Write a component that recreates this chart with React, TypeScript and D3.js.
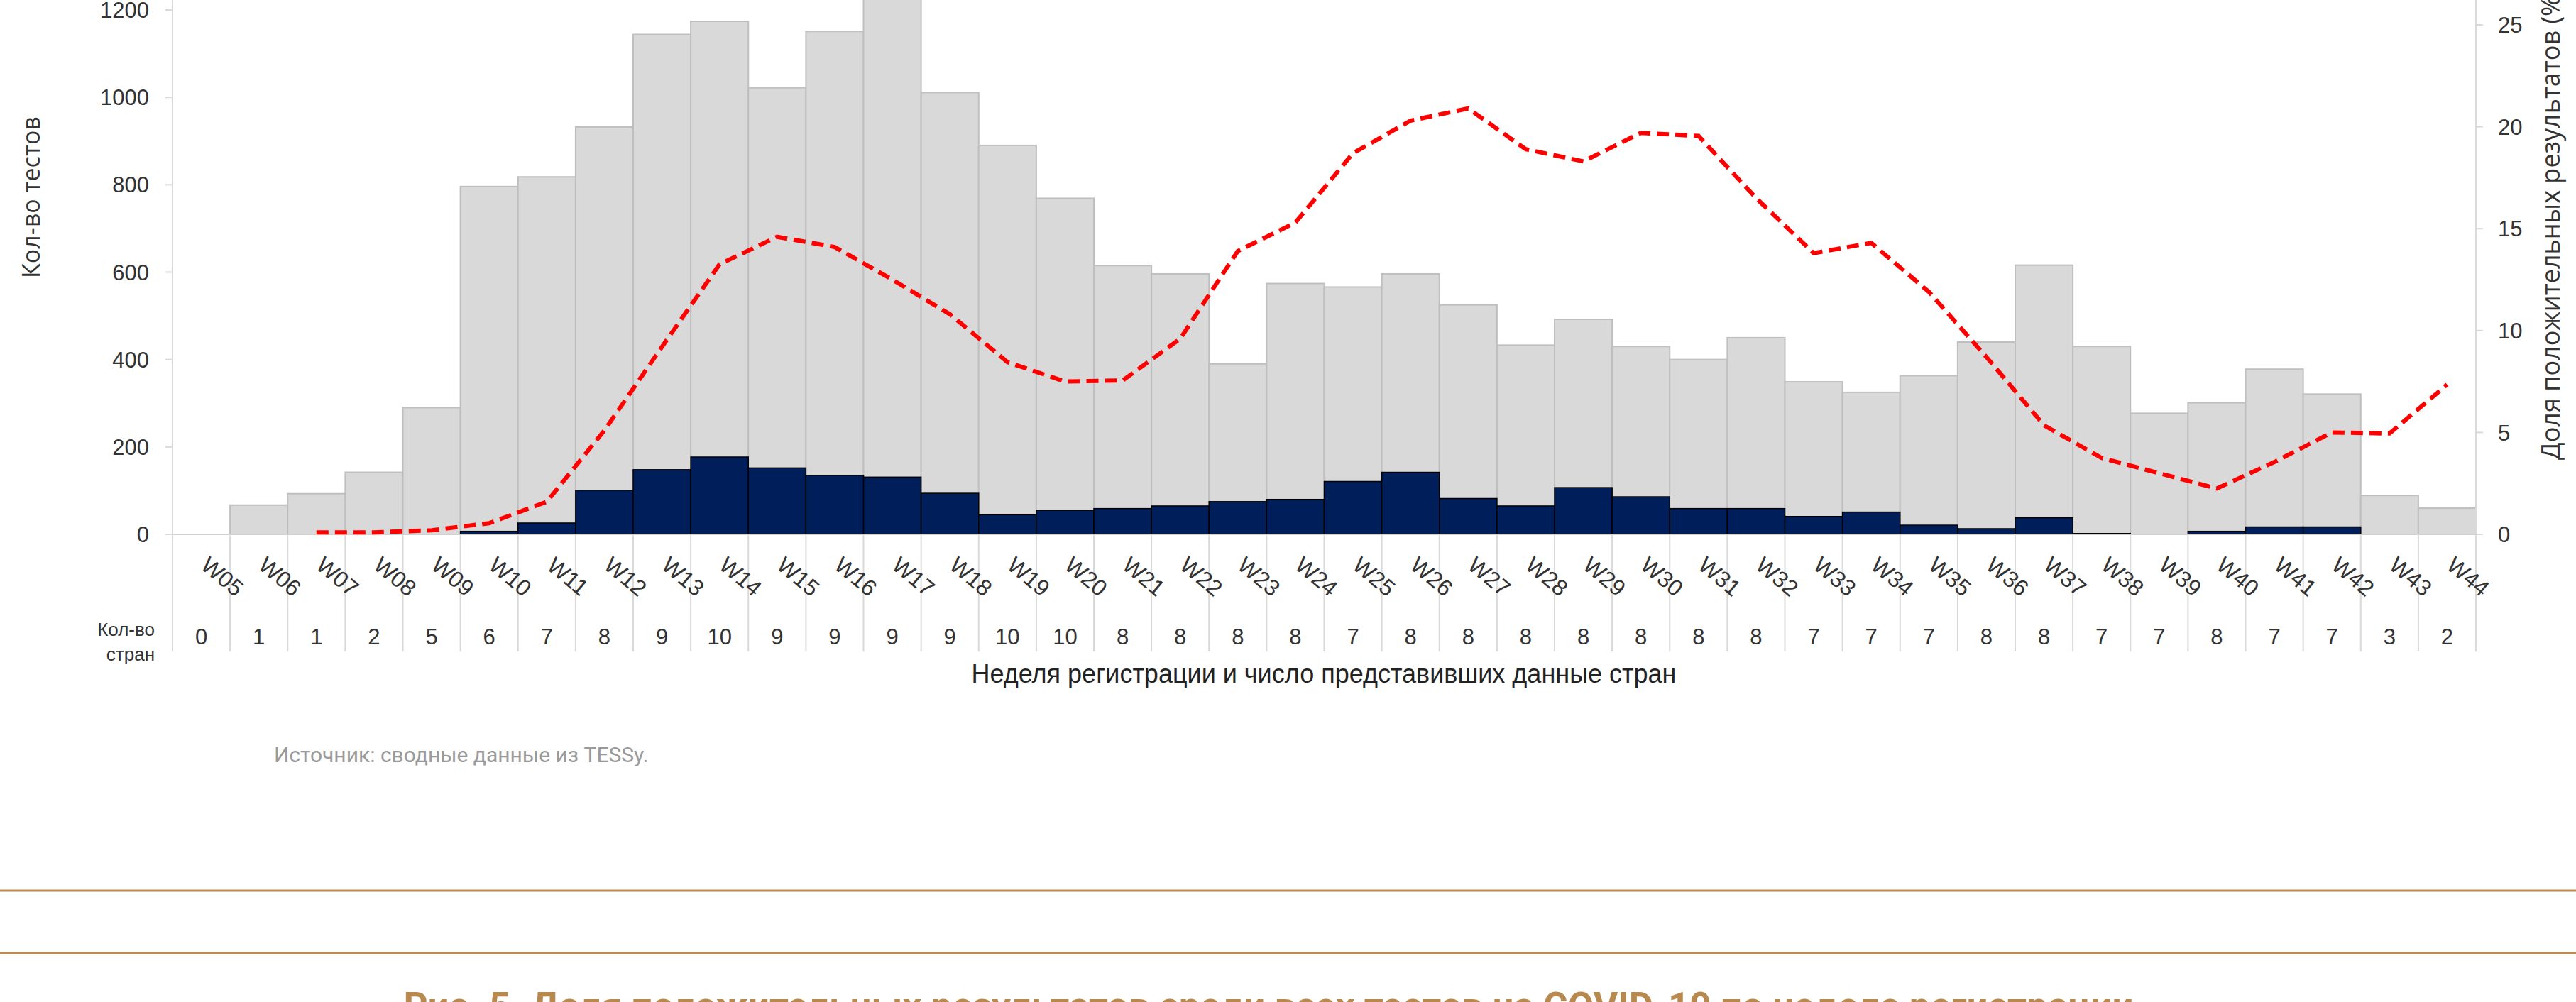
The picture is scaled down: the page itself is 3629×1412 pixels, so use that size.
import React, { useEffect, useRef } from "react";
import * as d3 from "d3";

// weeks of registration
const weeks = [
  "W05", "W06", "W07", "W08", "W09", "W10", "W11", "W12", "W13", "W14",
  "W15", "W16", "W17", "W18", "W19", "W20", "W21", "W22", "W23", "W24",
  "W25", "W26", "W27", "W28", "W29", "W30", "W31", "W32", "W33", "W34",
  "W35", "W36", "W37", "W38", "W39", "W40", "W41", "W42", "W43", "W44",
];

// number of reporting countries per week
const countries = [
  0, 1, 1, 2, 5, 6, 7, 8, 9, 10, 9, 9, 9, 9, 10, 10, 8, 8, 8, 8,
  7, 8, 8, 8, 8, 8, 8, 8, 7, 7, 7, 8, 8, 7, 7, 8, 7, 7, 3, 2,
];

// total tests (grey bars)
const totalTests = [
  0, 67, 93, 142, 290, 796, 818, 932, 1144, 1174, 1022, 1151, 1240, 1011, 890, 769, 615, 596, 390, 574,
  566, 596, 525, 433, 492, 430, 400, 450, 349, 325, 363, 440, 616, 430, 277, 301, 378, 321, 89, 60,
];

// positive tests (navy bars)
const positiveTests = [
  0, 0, 0, 0, 0, 7, 26, 101, 148, 177, 152, 135, 131, 94, 45, 55, 59, 65, 75, 80,
  121, 142, 82, 65, 107, 86, 59, 59, 41, 51, 21, 13, 38, 2, 0, 7, 17, 17, 0, 0,
];

// share of positive results, % (red dashed line)
const positivity: (number | null)[] = [
  null, null, 0.1, 0.1, 0.2, 0.55, 1.6, 5.1, 9.2, 13.25, 14.6, 14.1, 12.5, 10.8, 8.45, 7.5, 7.55, 9.6, 13.9, 15.3,
  18.7, 20.3, 20.9, 18.9, 18.3, 19.7, 19.55, 16.5, 13.8, 14.3, 11.9, 8.7, 5.35, 3.75, 3.0, 2.25, 3.55, 5.0, 4.95, 7.35,
];

const leftTicks = [0, 200, 400, 600, 800, 1000, 1200];
const rightTicks = [0, 5, 10, 15, 20, 25];

const W = 3629;
const H = 1412;

function App() {
  const ref = useRef<any>();

  useEffect(() => {
    const svg = d3.select(ref.current);
    svg.selectAll("*").remove();

    const labelFont = "'Liberation Sans', Arial, sans-serif";
    const titleFont = "'Open Sans', 'Noto Sans', sans-serif";

    const x = d3.scaleBand().domain(weeks).range([243, 3488]).padding(0);
    const yLeft = d3.scaleLinear().domain([0, 1200]).range([753, 14]);
    const yRight = d3.scaleLinear().domain([0, 25]).range([753, 35]);

    svg.append("rect").attr("width", W).attr("height", H).attr("fill", "#fff");

    // grey bars
    svg
      .append("g")
      .selectAll("rect")
      .data(totalTests)
      .join("rect")
      .attr("x", (d, i) => x(weeks[i])!)
      .attr("width", x.bandwidth())
      .attr("y", (d) => yLeft(d))
      .attr("height", (d) => yLeft(0) - yLeft(d))
      .attr("fill", "#d9d9d9")
      .attr("stroke", (d) => (d > 0 ? "#bfbfbf" : "none"))
      .attr("stroke-width", 2);

    // navy bars
    svg
      .append("g")
      .selectAll("rect")
      .data(positiveTests)
      .join("rect")
      .attr("x", (d, i) => x(weeks[i])!)
      .attr("width", x.bandwidth())
      .attr("y", (d) => yLeft(d))
      .attr("height", (d) => yLeft(0) - yLeft(d))
      .attr("fill", "#001e5a")
      .attr("stroke", (d) => (d > 0 ? "#000" : "none"))
      .attr("stroke-width", 1.5);

    // baseline
    svg
      .append("line")
      .attr("x1", 233)
      .attr("x2", 3488)
      .attr("y1", yLeft(0))
      .attr("y2", yLeft(0))
      .attr("stroke", "#d0d0d0")
      .attr("stroke-width", 2);

    // category table grid lines
    const edges = weeks.map((w) => x(w)!).concat([x.range()[1]]);
    svg
      .append("g")
      .selectAll("line")
      .data(edges)
      .join("line")
      .attr("x1", (d) => d)
      .attr("x2", (d) => d)
      .attr("y1", (d, i) => (i === 0 || i === edges.length - 1 ? 0 : yLeft(0)))
      .attr("y2", 918)
      .attr("stroke", "#d9d9d9")
      .attr("stroke-width", 2);

    // left axis ticks + labels
    const lt = svg.append("g");
    lt.selectAll("line")
      .data(leftTicks)
      .join("line")
      .attr("x1", 233)
      .attr("x2", 243)
      .attr("y1", (d) => yLeft(d))
      .attr("y2", (d) => yLeft(d))
      .attr("stroke", "#d9d9d9")
      .attr("stroke-width", 2);
    lt.selectAll("text")
      .data(leftTicks)
      .join("text")
      .attr("x", 210)
      .attr("y", (d) => yLeft(d))
      .attr("dy", "0.36em")
      .attr("text-anchor", "end")
      .attr("font-family", labelFont)
      .attr("font-size", 31)
      .attr("fill", "#333")
      .text((d) => d);

    // right axis ticks + labels
    const rt = svg.append("g");
    rt.selectAll("line")
      .data(rightTicks)
      .join("line")
      .attr("x1", 3488)
      .attr("x2", 3498)
      .attr("y1", (d) => yRight(d))
      .attr("y2", (d) => yRight(d))
      .attr("stroke", "#d9d9d9")
      .attr("stroke-width", 2);
    rt.selectAll("text")
      .data(rightTicks)
      .join("text")
      .attr("x", 3519)
      .attr("y", (d) => yRight(d))
      .attr("dy", "0.36em")
      .attr("font-family", labelFont)
      .attr("font-size", 31)
      .attr("fill", "#333")
      .text((d) => d);

    // positivity line
    const line = d3
      .line<number | null>()
      .defined((d) => d !== null)
      .x((d, i) => x(weeks[i])! + x.bandwidth() / 2)
      .y((d) => yRight(d as number));
    svg
      .append("path")
      .datum(positivity)
      .attr("d", line)
      .attr("fill", "none")
      .attr("stroke", "#ff0000")
      .attr("stroke-width", 6)
      .attr("stroke-dasharray", "17 9");

    // week labels (rotated)
    svg
      .append("g")
      .selectAll("text")
      .data(weeks)
      .join("text")
      .attr("transform", (d) => `translate(${x(d)! + x.bandwidth() / 2 + 30},812) rotate(40)`)
      .attr("text-anchor", "middle")
      .attr("dy", "0.36em")
      .attr("font-family", labelFont)
      .attr("font-size", 32)
      .attr("fill", "#333")
      .text((d) => d);

    // number of countries row
    svg
      .append("g")
      .selectAll("text")
      .data(countries)
      .join("text")
      .attr("x", (d, i) => x(weeks[i])! + x.bandwidth() / 2)
      .attr("y", 897)
      .attr("dy", "0.36em")
      .attr("text-anchor", "middle")
      .attr("font-family", labelFont)
      .attr("font-size", 31)
      .attr("fill", "#333")
      .text((d) => d);

    svg
      .append("text")
      .attr("x", 218)
      .attr("y", 896)
      .attr("text-anchor", "end")
      .attr("font-family", labelFont)
      .attr("font-size", 26)
      .attr("fill", "#333")
      .text("Кол-во");
    svg
      .append("text")
      .attr("x", 218)
      .attr("y", 931)
      .attr("text-anchor", "end")
      .attr("font-family", labelFont)
      .attr("font-size", 26)
      .attr("fill", "#333")
      .text("стран");

    // x axis title
    svg
      .append("text")
      .attr("x", 1865)
      .attr("y", 962)
      .attr("text-anchor", "middle")
      .attr("font-family", labelFont)
      .attr("font-size", 36)
      .attr("fill", "#222")
      .text("Неделя регистрации и число представивших данные стран");

    // left axis title
    svg
      .append("text")
      .attr("transform", "translate(56,278) rotate(-90)")
      .attr("text-anchor", "middle")
      .attr("font-family", titleFont)
      .attr("font-size", 34)
      .attr("fill", "#333")
      .text("Кол-во тестов");

    // right axis title
    svg
      .append("text")
      .attr("transform", "translate(3606,648) rotate(-90)")
      .attr("text-anchor", "start")
      .attr("font-family", titleFont)
      .attr("font-size", 36)
      .attr("fill", "#333")
      .text("Доля положительных результатов (%)");

    // source note
    svg
      .append("text")
      .attr("x", 386)
      .attr("y", 1074)
      .attr("font-family", "Roboto, 'Noto Sans', sans-serif")
      .attr("font-size", 30)
      .attr("fill", "#9a9a9a")
      .text("Источник: сводные данные из TESSy.");

    // separator rules
    [1255, 1343].forEach((yy) => {
      svg
        .append("line")
        .attr("x1", 0)
        .attr("x2", W)
        .attr("y1", yy)
        .attr("y2", yy)
        .attr("stroke", "#bd8c55")
        .attr("stroke-width", 3);
    });

    // figure caption (cut off at the bottom, as in the source page)
    svg
      .append("text")
      .attr("x", 1787)
      .attr("y", 1436)
      .attr("text-anchor", "middle")
      .attr("font-family", "Roboto, 'Noto Sans', sans-serif")
      .attr("font-weight", "bold")
      .attr("font-size", 53)
      .attr("fill", "#b8894f")
      .text("Рис. 5. Доля положительных результатов среди всех тестов на COVID-19 по неделе регистрации");
  }, []);

  return (
    <div style={{ position: "absolute", left: 0, top: 0 }}>
      <svg ref={ref} width={W} height={H} style={{ display: "block" }}></svg>
    </div>
  );
}

export default App;
